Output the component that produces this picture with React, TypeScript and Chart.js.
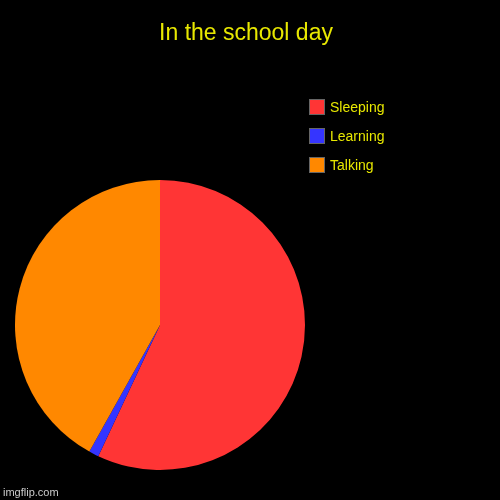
import React, { useEffect, useRef } from "react";
import { Chart, registerables } from "chart.js";

Chart.register(...registerables);

const chartTitle = "In the school day";
const categories = ["Sleeping", "Learning", "Talking"];
const values = [57, 1.1, 41.9];
const colors = ["#ff3535", "#3535ff", "#ff8800"];
const watermark = "imgflip.com";

const TEXT_COLOR = "#e8e800";
const FONT = "'Liberation Sans', Arial, sans-serif";

const overlayPlugin = {
  id: "overlay",
  afterDraw(chart: any) {
    const ctx = chart.ctx as CanvasRenderingContext2D;
    ctx.save();
    // title
    ctx.fillStyle = TEXT_COLOR;
    ctx.font = `23px ${FONT}`;
    ctx.textAlign = "center";
    ctx.textBaseline = "alphabetic";
    ctx.fillText(chartTitle, 246, 40);
    // legend
    const labels = categories;
    labels.forEach((lab, i) => {
      const y = 99 + i * 29;
      ctx.fillStyle = colors[i];
      ctx.fillRect(309, y, 16, 16);
      ctx.strokeStyle = "#666666";
      ctx.lineWidth = 1;
      ctx.strokeRect(309.5, y + 0.5, 15, 15);
      ctx.fillStyle = TEXT_COLOR;
      ctx.font = `14px ${FONT}`;
      ctx.textAlign = "left";
      ctx.textBaseline = "middle";
      ctx.fillText(lab, 330, y + 9);
    });
    // watermark
    ctx.fillStyle = "#cccccc";
    ctx.font = `11px ${FONT}`;
    ctx.textAlign = "left";
    ctx.textBaseline = "alphabetic";
    ctx.fillText(watermark, 3, 496);
    ctx.restore();
  },
};

const bgPlugin = {
  id: "bg",
  beforeDraw(chart: any) {
    const ctx = chart.ctx as CanvasRenderingContext2D;
    ctx.save();
    ctx.fillStyle = "#000000";
    ctx.fillRect(0, 0, chart.width, chart.height);
    ctx.restore();
  },
};

export default function App() {
  const ref = useRef<HTMLCanvasElement | null>(null);
  useEffect(() => {
    document.body.style.margin = "0";
    document.body.style.background = "#000";
    if (!ref.current) return;
    const chart = new Chart(ref.current, {
      type: "pie",
      data: {
        labels: categories,
        datasets: [
          {
            data: values,
            backgroundColor: colors,
            borderWidth: 0,
          },
        ],
      },
      options: {
        animation: false,
        responsive: false,
        devicePixelRatio: 1,
        layout: { padding: { left: 15, right: 195, top: 180, bottom: 30 } },
        plugins: {
          legend: { display: false },
          title: { display: false },
          tooltip: { enabled: false },
        },
      },
      plugins: [bgPlugin, overlayPlugin],
    });
    return () => chart.destroy();
  }, []);
  return (
    <div style={{ position: "absolute", left: 0, top: 0, width: 500, height: 500, background: "#000" }}>
      <canvas ref={ref} width={500} height={500} style={{ width: 500, height: 500, display: "block" }} />
    </div>
  );
}
